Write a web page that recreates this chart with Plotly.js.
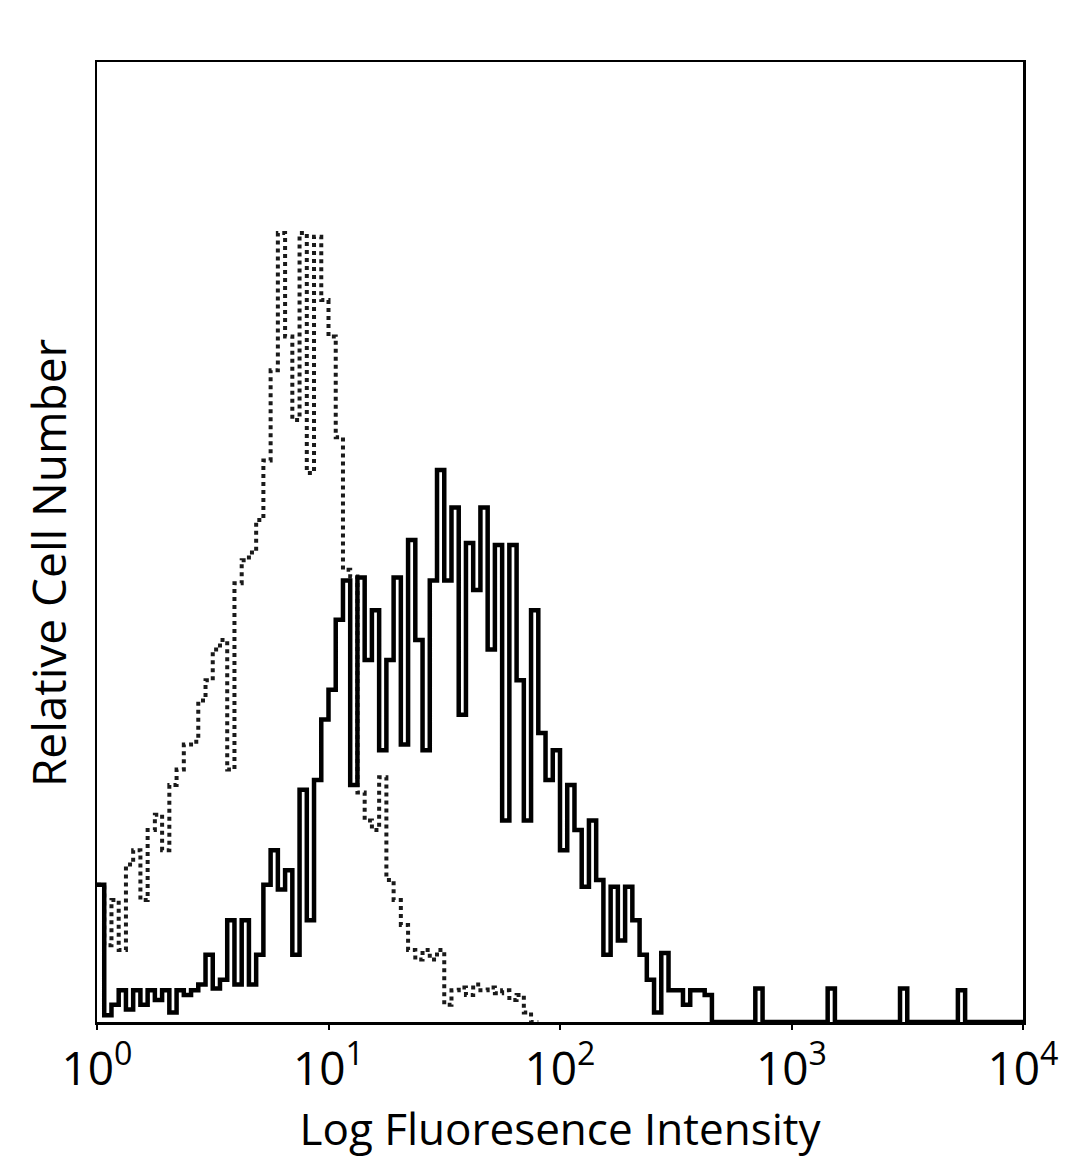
<!DOCTYPE html>
<html>
<head>
<meta charset="utf-8">
<script src="https://cdn.plot.ly/plotly-3.0.1.min.js"></script>
<style>html,body{margin:0;padding:0;background:#fff;}#chart{width:1080px;height:1169px;}</style>
</head>
<body>
<div id="chart"></div>
<script>
// Channels: 32 per decade, log10 range 0..4
const channelsPerDecade = 32;
// Isotype control (dotted), relative cell number per channel
const isotypeCounts = [14.3, 8.0, 12.7, 7.5, 16.4, 17.9, 12.7, 20.0, 21.6, 17.9,
  24.7, 26.3, 28.9, 29.2, 33.5, 35.6, 38.8, 39.8, 26.3, 45.7,
  48.1, 48.9, 52.3, 58.5, 67.9, 82.2, 71.4, 62.7, 82.2, 57.2,
  81.8, 75.2, 71.4, 60.9, 47.1, 46.4, 23.9, 21.0, 20.0, 25.5,
  14.8, 12.7, 10.1, 7.5, 6.5, 7.5, 6.5, 7.5, 1.8, 3.3,
  3.6, 2.8, 3.9, 3.3, 3.6, 3.0, 3.3, 2.3, 2.8, 1.0, 0];
// Antibody stained (solid)
const stainedCounts = [14.3, 0.7, 1.8, 3.3, 1.3, 3.3, 1.8, 3.3, 2.3, 3.3,
  1.0, 3.3, 2.8, 3.3, 3.9, 7.0, 3.5, 4.4, 10.6, 3.9,
  10.6, 3.9, 7.0, 14.3, 17.9, 13.8, 15.8, 7.0, 24.2, 10.6,
  25.2, 31.5, 34.6, 41.9, 46.0, 24.7, 46.3, 37.7, 42.9, 28.3,
  37.7, 46.3, 28.9, 50.2, 39.8, 28.3, 46.0, 57.5, 46.0, 53.6,
  32.0, 49.9, 45.0, 53.6, 38.8, 49.7, 21.0, 49.7, 35.6, 21.0,
  42.9, 30.1, 25.2, 28.3, 17.9, 24.7, 20.0, 14.1, 21.0, 14.8,
  7.0, 14.1, 8.5, 14.1, 10.6, 7.0, 4.4, 1.0, 7.2, 3.3,
  3.3, 1.8, 3.3, 3.3, 2.8, 0, 0, 0, 0, 0,
  0, 3.5, 0, 0, 0, 0, 0, 0, 0, 0,
  0, 3.5, 0, 0, 0, 0, 0, 0, 0, 0,
  0, 3.5, 0, 0, 0, 0, 0, 0, 0, 3.3,
  0, 0, 0, 0, 0, 0, 0, 0];
const tickValues = [1, 10, 100, 1000, 10000];
const tickLabels = ['10<sup>0</sup>', '10<sup>1</sup>', '10<sup>2</sup>', '10<sup>3</sup>', '10<sup>4</sup>'];
const xTitle = 'Log Fluoresence Intensity';
const yTitle = 'Relative Cell Number';

function stepXY(counts) {
  const xs = [], ys = [];
  counts.forEach((v, i) => { xs.push(Math.pow(10, i / channelsPerDecade)); ys.push(v); });
  xs.push(Math.pow(10, counts.length / channelsPerDecade));
  ys.push(counts[counts.length - 1]);
  return {x: xs, y: ys};
}
const iso = stepXY(isotypeCounts);
const st = stepXY(stainedCounts);

const font = '"Open Sans", "Noto Sans", sans-serif';
const traces = [
  {x: iso.x, y: iso.y, type: 'scatter', mode: 'lines', line: {shape: 'hv', color: '#1a1a1a', width: 4, dash: 'dot'}, name: 'Isotype', hoverinfo: 'skip'},
  {x: st.x, y: st.y, type: 'scatter', mode: 'lines', line: {shape: 'hv', color: '#000', width: 4.5}, name: 'Stained', hoverinfo: 'skip'}
];
const layout = {
  width: 1080, height: 1169,
  margin: {l: 97, r: 57, t: 62, b: 147},
  paper_bgcolor: '#fff', plot_bgcolor: '#fff',
  showlegend: false,
  font: {family: font, color: '#000'},
  xaxis: {
    type: 'log', range: [0, 4],
    tickvals: tickValues, ticktext: tickLabels,
    tickfont: {size: 46, family: font},
    ticks: 'outside', ticklen: 5, tickwidth: 2, tickcolor: '#000',
    showgrid: false, zeroline: false,
    showline: true, linecolor: '#000', linewidth: 2.5, mirror: true,
    title: {text: xTitle, font: {size: 44, family: font}, standoff: 12}
  },
  yaxis: {
    range: [0, 100],
    showticklabels: false, ticks: '',
    showgrid: false, zeroline: false,
    showline: true, linecolor: '#000', linewidth: 2.5, mirror: true
  },
  annotations: [{
    text: yTitle, textangle: -90, showarrow: false,
    xref: 'paper', yref: 'paper', x: -0.053, y: 0.479,
    xanchor: 'center', yanchor: 'middle',
    font: {size: 46, family: font, color: '#000'}
  }]
};
Plotly.newPlot('chart', traces, layout, {staticPlot: true});
</script>
</body>
</html>
